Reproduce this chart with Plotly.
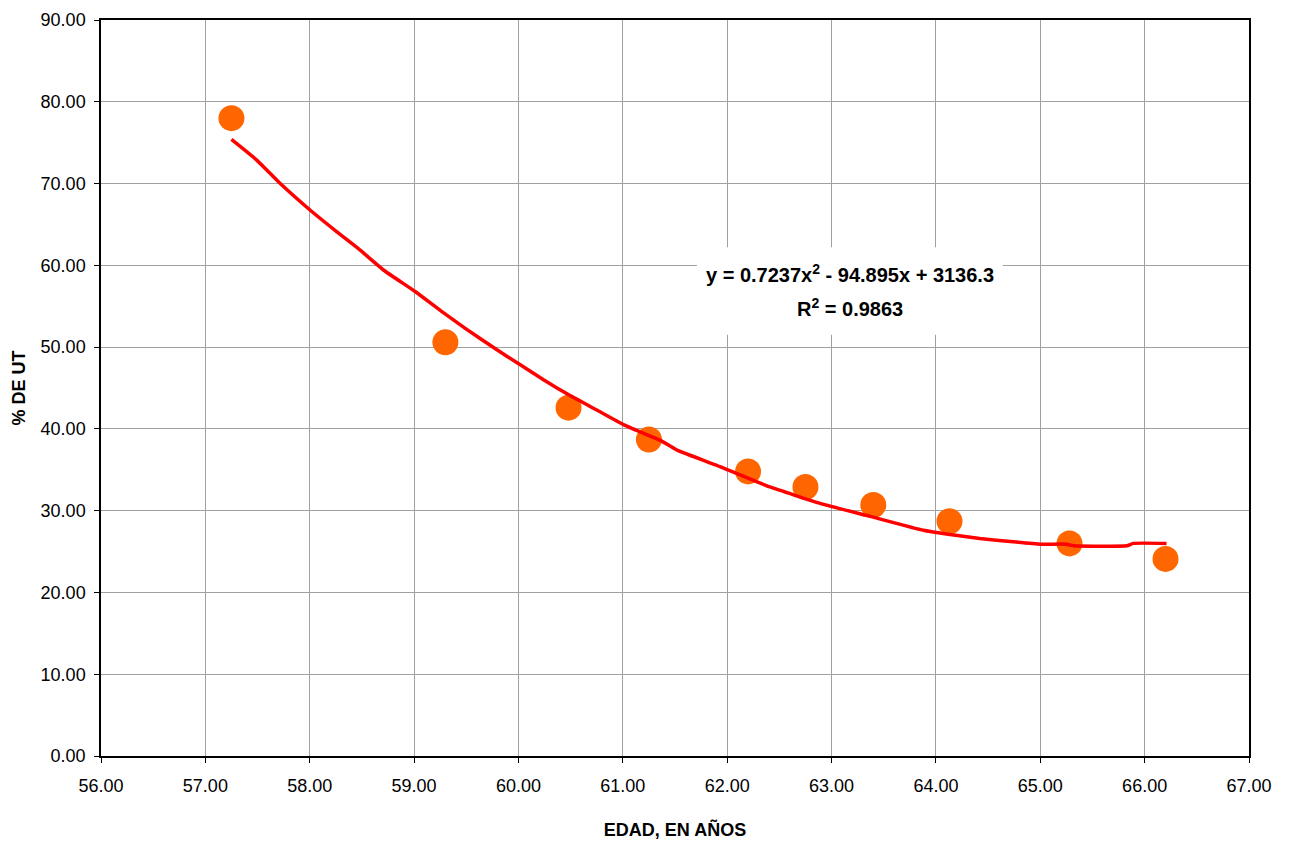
import plotly.graph_objects as go

# Data points (edad, % de UT)
edad = [57.25, 59.30, 60.48, 61.25, 62.20, 62.75, 63.40, 64.13, 65.28, 66.20]
pct_ut = [78.0, 50.6, 42.6, 38.7, 34.8, 32.9, 30.7, 28.7, 26.0, 24.1]

# Trend line
trend_x = [57.25, 57.49, 57.71, 58.00, 58.26, 58.48, 58.71, 59.01, 59.25, 59.49,
           59.79, 60.01, 60.24, 60.49, 60.75, 61.01, 61.36, 61.52, 61.93, 62.41,
           62.89, 63.37, 63.88, 64.10, 64.42, 64.74, 65.00, 65.25, 65.32, 65.83,
           65.89, 66.21]
trend_y = [75.4, 72.9, 70.1, 66.8, 64.1, 61.9, 59.4, 56.8, 54.5, 52.3,
           49.7, 47.9, 46.0, 44.1, 42.3, 40.5, 38.6, 37.4, 35.4, 32.9,
           30.9, 29.3, 27.6, 27.15, 26.6, 26.2, 25.9, 25.9, 25.7, 25.7,
           26.0, 26.0]

x_ticks = [56, 57, 58, 59, 60, 61, 62, 63, 64, 65, 66, 67]
y_ticks = [0, 10, 20, 30, 40, 50, 60, 70, 80, 90]

equation_line1 = "y = 0.7237x<sup>2</sup> - 94.895x + 3136.3"
equation_line2 = "R<sup>2</sup> = 0.9863"

font_family = "Liberation Sans, Arial, sans-serif"

fig = go.Figure()
fig.add_trace(go.Scatter(
    x=edad, y=pct_ut, mode="markers",
    marker=dict(color="#FF6600", size=26, line=dict(width=0)),
    showlegend=False,
))
fig.add_trace(go.Scatter(
    x=trend_x, y=trend_y, mode="lines",
    line=dict(color="#FF0000", width=3.5, shape="spline", smoothing=0.4),
    showlegend=False,
))

# white box behind the equation (covers gridlines)
fig.add_shape(type="rect", xref="x", yref="y", x0=61.71, x1=64.64, y0=51.5, y1=62.2,
              fillcolor="white", line=dict(width=0), layer="between")

fig.add_annotation(
    x=63.18, y=59.0, xref="x", yref="y",
    text=equation_line1, showarrow=False,
    font=dict(family=font_family, size=20, color="black", weight="bold"),
)
fig.add_annotation(
    x=63.18, y=54.8, xref="x", yref="y",
    text=equation_line2, showarrow=False,
    font=dict(family=font_family, size=20, color="black", weight="bold"),
)

axis_common = dict(
    showline=True, linecolor="black", linewidth=1.5, mirror=True,
    showgrid=True, gridcolor="#A0A0A0", gridwidth=1,
    ticks="outside", ticklen=5, tickcolor="black", tickwidth=1,
    tickformat=".2f", zeroline=False, automargin=False,
    tickfont=dict(family=font_family, size=18, color="black"),
)

fig.update_xaxes(
    range=[56, 67], tickvals=x_ticks, ticklabelstandoff=8,
    title=dict(text="<b>EDAD, EN AÑOS</b>", font=dict(family=font_family, size=18, color="black"), standoff=28),
    **axis_common,
)
fig.update_yaxes(
    range=[0, 90], tickvals=y_ticks, ticklabelstandoff=5,
    title=dict(text="<b>% DE UT</b>", font=dict(family=font_family, size=18, color="black"), standoff=10),
    **axis_common,
)

# page body adds an 8px offset; margins compensate so the plot area sits where the reference has it
fig.update_layout(
    width=1293, height=844,
    margin=dict(l=93, r=52, t=12, b=96),
    paper_bgcolor="white", plot_bgcolor="white",
    font=dict(family=font_family, color="black"),
)

fig.write_html("out.html")
